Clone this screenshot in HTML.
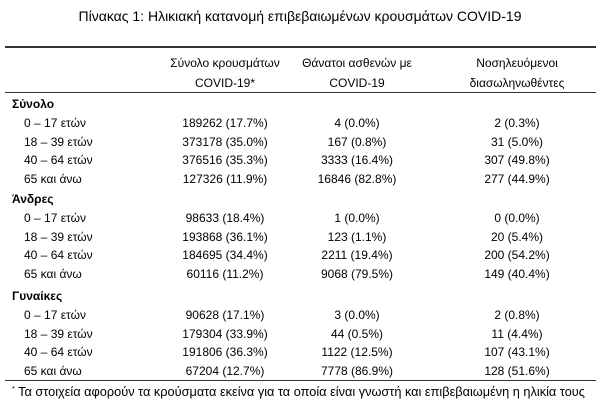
<!DOCTYPE html>
<html><head><meta charset="utf-8"><style>
body{margin:0;width:600px;height:403px;background:#fff;font-family:"Liberation Sans",sans-serif;color:#000;position:relative;overflow:hidden}
.t{position:absolute;white-space:nowrap;font-size:12px;line-height:14px}
.c{transform:translateX(-50%)}
.rule{position:absolute;left:5px;width:591px;background:#333}
</style></head><body>
<div class="t c" style="left:300px;top:8px;font-size:14px;line-height:17px">Πίνακας 1: Ηλικιακή κατανομή επιβεβαιωμένων κρουσμάτων COVID-19</div>
<div class="rule" style="top:46px;height:2px"></div>
<div class="t c" style="left:225px;top:53px;text-align:center;line-height:20px">Σύνολο κρουσμάτων<br>COVID-19*</div>
<div class="t c" style="left:357px;top:53px;text-align:center;line-height:20px">Θάνατοι ασθενών με<br>COVID-19</div>
<div class="t c" style="left:517px;top:53px;text-align:center;line-height:20px">Νοσηλευόμενοι<br>διασωληνωθέντες</div>
<div class="rule" style="top:92px;height:1px"></div>
<div id="body"></div>
<div class="rule" style="top:380px;height:1px"></div>
<div class="t" style="left:12px;top:382px;font-size:12.5px;line-height:15px;transform:scaleX(1.02);transform-origin:left"><sup style="font-size:7px">*</sup> Τα στοιχεία αφορούν τα κρούσματα εκείνα για τα οποία είναι γνωστή και επιβεβαιωμένη η ηλικία τους</div>
<script>
const groups=["Σύνολο","Άνδρες","Γυναίκες"];
const ages=["0 – 17 ετών","18 – 39 ετών","40 – 64 ετών","65 και άνω"];
const cases=[["189262 (17.7%)","373178 (35.0%)","376516 (35.3%)","127326 (11.9%)"],["98633 (18.4%)","193868 (36.1%)","184695 (34.4%)","60116 (11.2%)"],["90628 (17.1%)","179304 (33.9%)","191806 (36.3%)","67204 (12.7%)"]];
const deaths=[["4 (0.0%)","167 (0.8%)","3333 (16.4%)","16846 (82.8%)"],["1 (0.0%)","123 (1.1%)","2211 (19.4%)","9068 (79.5%)"],["3 (0.0%)","44 (0.5%)","1122 (12.5%)","7778 (86.9%)"]];
const icu=[["2 (0.3%)","31 (5.0%)","307 (49.8%)","277 (44.9%)"],["0 (0.0%)","20 (5.4%)","200 (54.2%)","149 (40.4%)"],["2 (0.8%)","11 (4.4%)","107 (43.1%)","128 (51.6%)"]];
const body=document.getElementById('body');
const groupTop=[97,192,289];
function add(txt,x,y,center,bold,name){
  const d=document.createElement('div');
  d.className='t'+(center?' c':'');
  d.style.left=x+'px';d.style.top=y+'px';
  if(bold)d.style.fontWeight='bold';
  d.textContent=txt;
  
  
  body.appendChild(d);
}
groups.forEach((g,gi)=>{
  const y0=groupTop[gi];
  add(g,12,y0,false,true,'group-label');
  ages.forEach((a,ai)=>{
    const y=y0+19+ai*18.5;
    add(a,24,y,false,false,'age-label');
    add(cases[gi][ai],225,y,true,false,'cases-cell');
    add(deaths[gi][ai],357,y,true,false,'deaths-cell');
    add(icu[gi][ai],517,y,true,false,'intubated-cell');
  });
});
</script>
</body></html>
